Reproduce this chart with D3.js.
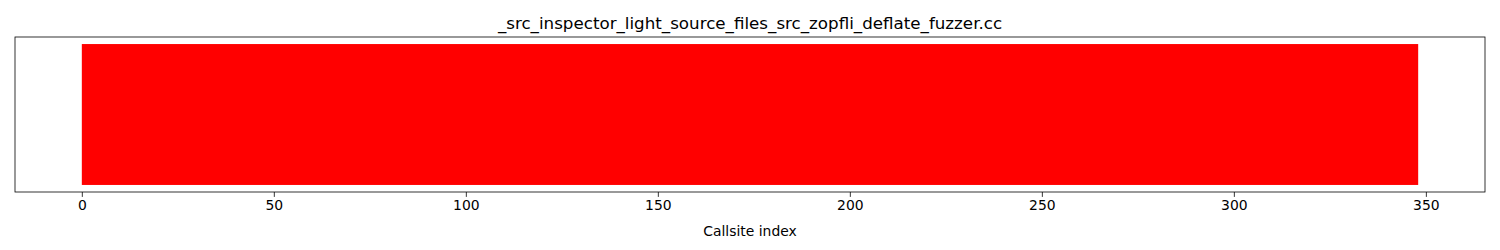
<!DOCTYPE html>
<html>
<head>
<meta charset="utf-8">
<script src="https://cdn.jsdelivr.net/npm/d3@7"></script>
<style>
  body { margin: 0; background: #fff; }
  text { font-family: "DejaVu Sans", sans-serif; fill: #000; }
</style>
</head>
<body>
<div class="chart"></div>
<script>
"use strict";
// chart data
var chartTitle = "_src_inspector_light_source_files_src_zopfli_deflate_fuzzer.cc";
var xLabel = "Callsite index";
var callsiteCount = 348;
// contiguous runs of callsites with the same hit status (all not hit here)
var runStart = [0];
var runEnd = [348];
var runHit = [false];
var xTicks = [0, 50, 100, 150, 200, 250, 300, 350];

var width = 1500, height = 250;
var margin = {top: 37, right: 15, bottom: 58, left: 15};
var innerW = width - margin.left - margin.right,
    innerH = height - margin.top - margin.bottom;

var pad = callsiteCount * 0.05;
var x = d3.scaleLinear().domain([-pad, callsiteCount + pad]).range([0, innerW]);
var y = d3.scaleLinear().domain([-0.05, 1.05]).range([innerH, 0]);

var svg = d3.select(".chart").append("svg")
    .attr("width", width)
    .attr("height", height);

var g = svg.append("g")
    .attr("transform", "translate(" + margin.left + "," + margin.top + ")");

//bars
var runs = runStart.map(function(s, i){ return {start: s, end: runEnd[i], hit: runHit[i]}; });
g.selectAll(".run")
    .data(runs).enter()
    .append("rect").attr("class", "run")
    .attr("x", function(d){ return x(d.start); })
    .attr("y", y(1))
    .attr("width", function(d){ return x(d.end) - x(d.start); })
    .attr("height", y(0) - y(1))
    .style("fill", function(d){ return d.hit ? "#008000" : "#ff0000"; });

//x axis
var xAxis = g.append("g")
    .attr("transform", "translate(0," + innerH + ")")
    .call(d3.axisBottom(x).tickValues(xTicks).tickSize(4.9).tickPadding(3.5).tickFormat(d3.format("d")));
xAxis.select(".domain").remove();
xAxis.selectAll("line").attr("stroke", "#000").attr("stroke-width", 0.8);
xAxis.selectAll("text").style("font-size", "13.9px").style("font-family", "DejaVu Sans").attr("fill", "#000");

//frame
g.append("rect")
    .attr("x", 0).attr("y", 0)
    .attr("width", innerW).attr("height", innerH)
    .style("fill", "none").style("stroke", "#000").style("stroke-width", 0.8);

//title and label
svg.append("text")
    .attr("x", margin.left + innerW / 2)
    .attr("y", margin.top - 8.3)
    .style("text-anchor", "middle")
    .style("font-size", "16.7px")
    .text(chartTitle);

svg.append("text")
    .attr("x", margin.left + innerW / 2)
    .attr("y", 236)
    .style("text-anchor", "middle")
    .style("font-size", "13.9px")
    .text(xLabel);
</script>
</body>
</html>
